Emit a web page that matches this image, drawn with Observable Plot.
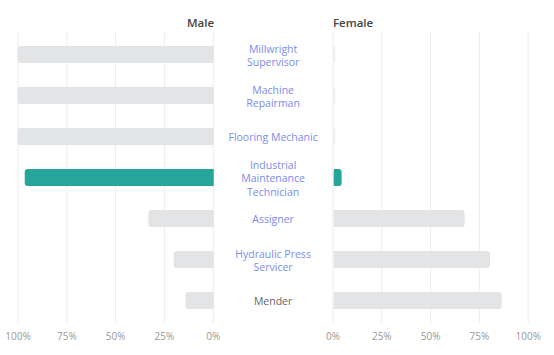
<!DOCTYPE html>
<html><head><meta charset="utf-8">
<script src="https://cdn.jsdelivr.net/npm/d3@7"></script>
<script src="https://cdn.jsdelivr.net/npm/@observablehq/plot@0.6"></script>
<style>body{margin:0;background:#fff;font-family:"Open Sans",sans-serif}</style>
</head><body><div id="chart"></div>
<script>
const occupations = [
  "Millwright\nSupervisor",
  "Machine\nRepairman",
  "Flooring Mechanic",
  "Industrial\nMaintenance\nTechnician",
  "Assigner",
  "Hydraulic Press\nServicer",
  "Mender"
];
const malePct = [100, 100, 100, 96.3, 33, 20, 14];
const femalePct = [0.5, 0.5, 0.5, 4, 67, 80, 86];
const tickValues = [0, 25, 50, 75, 100];
const tickLabels = ["0%", "25%", "50%", "75%", "100%"];
const panelTitles = ["Male", "Female"];
const highlighted = "Industrial\nMaintenance\nTechnician";
const currentItem = "Mender";

const GAP = 61.3; // space between the two panels, in percent units
const rows = occupations.map((o, i) => ({o, male: malePct[i], female: femalePct[i], hi: o === highlighted}));
const fillOf = d => d.hi ? "#26a69a" : "#e3e4e6";
const ticks = tickValues.flatMap((t, i) => [
  {x: -t, label: tickLabels[i]},
  {x: GAP + t, label: tickLabels[i]}
]);

const chart = Plot.plot({
  width: 554,
  height: 355,
  marginLeft: 17.5,
  marginRight: 26.3,
  marginTop: 32,
  marginBottom: 32,
  style: {fontFamily: "'Open Sans', sans-serif", background: "#fff"},
  x: {domain: [-100, 100 + GAP], axis: null},
  y: {domain: occupations, paddingInner: 0.58, paddingOuter: 0.29, axis: null},
  marks: [
    Plot.ruleX(ticks, {x: "x", stroke: "#ececec", strokeWidth: 1}),
    // male (left) bars: rounded outer end
    Plot.barX(rows, {x1: d => -d.male, x2: 0, y: "o", fill: fillOf, rx: 3}),
    Plot.barX(rows, {x1: d => -d.male / 2, x2: 0.5, y: "o", fill: fillOf}),
    // female (right) bars
    Plot.barX(rows, {x1: GAP + 0.7, x2: d => GAP + 0.7 + d.female, y: "o", fill: fillOf, rx: 3}),
    Plot.barX(rows.filter(d => d.female > 2), {x1: GAP + 0.7, x2: d => GAP + 0.7 + d.female / 2, y: "o", fill: fillOf}),
    Plot.text(rows, {
      x: GAP / 2, y: "o", text: "o",
      fill: d => d.o === currentItem ? "#666" : "#7b8bf0",
      fontSize: 10.5, lineHeight: 1.29
    }),
    Plot.text(ticks, {x: "x", text: "label", frameAnchor: "bottom", dy: 16, fill: "#999", fontSize: 10}),
    Plot.text([panelTitles[0]], {x: 0.4, text: d => d, frameAnchor: "top", dy: -14, textAnchor: "end", fontWeight: 600, fontSize: 11.5, fill: "#444"}),
    Plot.text([panelTitles[1]], {x: GAP, text: d => d, frameAnchor: "top", dy: -14, textAnchor: "start", fontWeight: 600, fontSize: 11.5, fill: "#444"})
  ]
});
document.getElementById("chart").appendChild(chart);
</script>
</body></html>
